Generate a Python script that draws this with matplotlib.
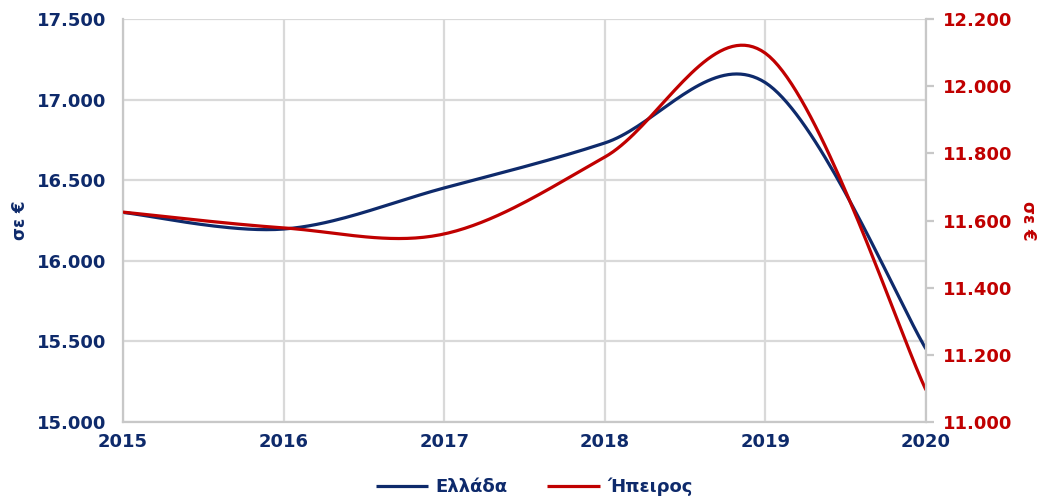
import numpy as np
import matplotlib
matplotlib.use("Agg")
import matplotlib.pyplot as plt
from matplotlib.ticker import FuncFormatter, MultipleLocator

years = [2015, 2016, 2017, 2018, 2019, 2020]
ellada = [16300, 16197, 16452, 16731, 17105, 15453]
ipeiros = [11625, 11578, 11560, 11789, 12098, 11095]

NAVY = "#0e2a6b"
RED = "#c00000"
GRID = "#d9d9d9"


def smooth(x, y, n=40):
    # Excel-style smoothed line: Catmull-Rom segments as cubic Bezier
    x = np.asarray(x, float); y = np.asarray(y, float)
    xs, ys = [], []
    for i in range(len(x) - 1):
        p0 = np.array([x[max(i - 1, 0)], y[max(i - 1, 0)]])
        p1 = np.array([x[i], y[i]])
        p2 = np.array([x[i + 1], y[i + 1]])
        p3 = np.array([x[min(i + 2, len(x) - 1)], y[min(i + 2, len(x) - 1)]])
        c1 = p1 + (p2 - p0) / 6
        c2 = p2 - (p3 - p1) / 6
        t = np.linspace(0, 1, n)[:, None]
        pts = (1 - t) ** 3 * p1 + 3 * (1 - t) ** 2 * t * c1 + 3 * (1 - t) * t ** 2 * c2 + t ** 3 * p2
        xs.extend(pts[:, 0]); ys.extend(pts[:, 1])
    return np.array(xs), np.array(ys)


dot_fmt = FuncFormatter(lambda v, p: f"{v:,.0f}".replace(",", "."))

plt.rcParams["font.family"] = "DejaVu Sans"
plt.rcParams["font.weight"] = "bold"

fig = plt.figure(figsize=(10.45, 4.97), dpi=100)
ax = fig.add_axes([123 / 1045, 1 - 422 / 497, (926 - 123) / 1045, (422 - 19) / 497])
ax2 = ax.twinx()

xg, yg = smooth(years, ellada)
l1, = ax.plot(xg, yg, color=NAVY, lw=2.3, solid_capstyle="butt", label="Ελλάδα")
xe, ye = smooth(years, ipeiros)
l2, = ax2.plot(xe, ye, color=RED, lw=2.3, solid_capstyle="butt", label="Ήπειρος")

ax.set_xlim(2015, 2020)
ax.set_ylim(15000, 17500)
ax2.set_ylim(11000, 12200)
ax.xaxis.set_major_locator(MultipleLocator(1))
ax.yaxis.set_major_locator(MultipleLocator(500))
ax2.yaxis.set_major_locator(MultipleLocator(200))
ax.yaxis.set_major_formatter(dot_fmt)
ax2.yaxis.set_major_formatter(dot_fmt)
ax.xaxis.set_major_formatter(FuncFormatter(lambda v, p: f"{int(round(v))}"))

ax.grid(True, color=GRID, lw=1.6)
ax.set_axisbelow(True)
for a in (ax, ax2):
    for s in a.spines.values():
        s.set_visible(False)
for name in ("left", "bottom"):
    ax.spines[name].set_visible(True)
    ax.spines[name].set_color("#c8c8c8")
    ax.spines[name].set_linewidth(1.6)
ax2.spines["right"].set_visible(True)
ax2.spines["right"].set_color("#c8c8c8")
ax2.spines["right"].set_linewidth(1.6)

ax.tick_params(axis="y", length=0, pad=12, labelsize=13, labelcolor=NAVY)
ax.tick_params(axis="x", length=0, pad=8, labelsize=13, labelcolor=NAVY)
ax2.tick_params(axis="y", length=6, width=1.6, color="#c8c8c8", direction="out",
                pad=6, labelsize=13, labelcolor=RED)

ax.set_ylabel("σε €", color=NAVY, fontsize=12, fontweight="bold", labelpad=6)
ax2.set_ylabel("σε €", color=RED, fontsize=12, fontweight="bold", rotation=-90, labelpad=18)

fig.legend(handles=[l1, l2], loc="center", bbox_to_anchor=(534 / 1045, 1 - 487 / 497),
           ncol=2, frameon=False, fontsize=13, handlelength=2.9, handletextpad=0.4,
           columnspacing=2.2, labelcolor=[NAVY, NAVY])

fig.savefig("out.png", dpi=100)
